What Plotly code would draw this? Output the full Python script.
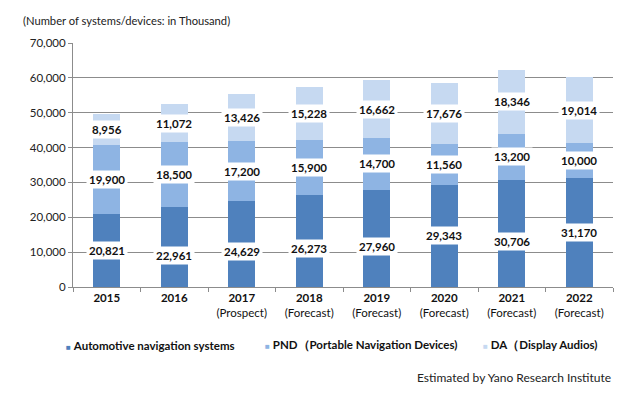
import plotly.graph_objects as go

years = ["2015", "2016", "2017", "2018", "2019", "2020", "2021", "2022"]
notes = ["", "", "(Prospect)", "(Forecast)", "(Forecast)", "(Forecast)", "(Forecast)", "(Forecast)"]
auto_nav = [20821, 22961, 24629, 26273, 27960, 29343, 30706, 31170]
pnd = [19900, 18500, 17200, 15900, 14700, 11560, 13200, 10000]
da = [8956, 11072, 13426, 15228, 16662, 17676, 18346, 19014]

series_names = ["Automotive navigation systems", "PND（Portable Navigation Devices)", "DA（Display Audios)"]
colors = ["#4F81BD", "#8EB4E3", "#C6D9F1"]
# pixel nudges of the value labels (label placement style only)
label_shift = [[0, -9, -7, -7, -8, 0, -8, 0], [0] * 8, [0] * 8]
# legend entry anchors (paper fraction of plot width)
legend_x = [-0.017, 0.351, 0.755]

FONT = "Lato"
GRID = "#8c8c8c"

cats = [f"<b>{y}</b><br>{n}" if n else f"<b>{y}</b>" for y, n in zip(years, notes)]

fig = go.Figure()
series = [auto_nav, pnd, da]
for vals, name, col in zip(series, series_names, colors):
    fig.add_trace(go.Bar(x=cats, y=vals, name=name, marker=dict(color=col, line=dict(width=0)),
                         showlegend=False))

annotations = []
base = [0] * len(years)
for si, vals in enumerate(series):
    for i, v in enumerate(vals):
        annotations.append(dict(
            x=cats[i], y=base[i] + v / 2, xref="x", yref="y",
            text=f"<b>{v:,}</b>", showarrow=False, bgcolor="white", borderpad=2,
            yshift=label_shift[si][i],
            font=dict(family=FONT, size=11.5, color="#111111")))
        base[i] += v

# legend row
for name, col, lx in zip(series_names, colors, legend_x):
    annotations.append(dict(
        x=lx, y=-0.239, xref="paper", yref="paper", xanchor="left", yanchor="middle",
        text=f"<span style='color:{col};font-size:8px'>■</span> <b>{name}</b>", showarrow=False,
        font=dict(family=FONT, size=11.5, color="#111111")))

annotations.append(dict(x=-0.0963, y=1.093, xref="paper", yref="paper", xanchor="left", yanchor="middle",
                        text="(Number of systems/devices: in Thousand)", showarrow=False,
                        font=dict(family=FONT, size=11.2, color="#222222")))
annotations.append(dict(x=1.0, y=-0.37, xref="paper", yref="paper", xanchor="right", yanchor="middle",
                        text="Estimated by Yano Research Institute", showarrow=False,
                        font=dict(family=FONT, size=12, color="#222222")))

fig.update_layout(
    width=633, height=398,
    margin=dict(l=73, r=20, t=43, b=111),
    barmode="stack", bargap=0.6,
    plot_bgcolor="white", paper_bgcolor="white",
    font=dict(family=FONT, size=11, color="#222222"),
    annotations=annotations,
    showlegend=False,
)
fig.update_xaxes(showline=True, linecolor=GRID, linewidth=1, ticks="outside", tickson="boundaries",
                 ticklen=4, tickcolor=GRID, showgrid=False,
                 tickfont=dict(family=FONT, size=11.5, color="#111111"))
fig.update_yaxes(range=[0, 70000], dtick=10000, tickformat=",", showline=True, linecolor=GRID,
                 linewidth=1, ticks="outside", ticklen=4, tickcolor=GRID, showgrid=True,
                 gridcolor=GRID, gridwidth=1, zeroline=False,
                 tickfont=dict(family=FONT, size=11.5, color="#222222"))

fig.write_html("out.html", config={"displayModeBar": False},
               post_script="document.body.style.margin='0';document.body.style.overflow='hidden';")
